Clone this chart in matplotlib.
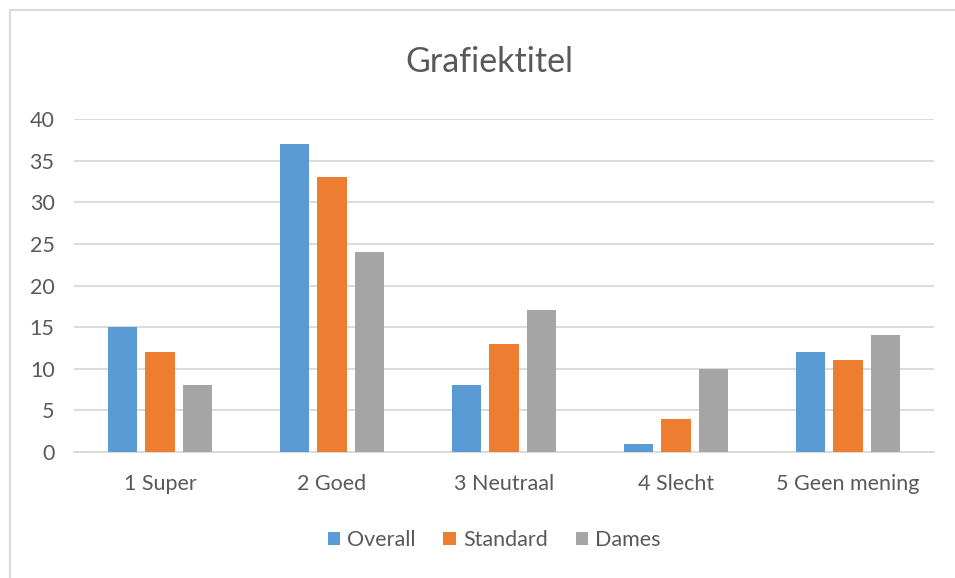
import numpy as np
import matplotlib.pyplot as plt
from matplotlib.patches import Rectangle

categories = ["1 Super", "2 Goed", "3 Neutraal", "4 Slecht", "5 Geen mening"]
overall = [15, 37, 8, 1, 12]
standard = [12, 33, 13, 4, 11]
dames = [8, 24, 17, 10, 14]

series = [("Overall", overall, "#5b9bd5"),
          ("Standard", standard, "#ed7d31"),
          ("Dames", dames, "#a5a5a5")]

plt.rcParams['font.family'] = ['Lato', 'DejaVu Sans']
text_col = "#595959"
grid_col = "#d9d9d9"

W, H = 955, 578
fig = plt.figure(figsize=(W / 100, H / 100), dpi=100)
ax = fig.add_axes([74 / W, 1 - 452 / H, (934 - 74) / W, (452 - 119) / H])

x = np.arange(len(categories))
width = 0.17
offsets = [-0.22, 0, 0.22]
for (name, vals, col), off in zip(series, offsets):
    ax.bar(x + off, vals, width, color=col, label=name, zorder=3)

ax.set_xlim(-0.5, len(categories) - 0.5)
ax.set_ylim(0, 40)
ax.set_yticks(range(0, 41, 5))
ax.set_xticks(x)
ax.set_xticklabels(categories)
ax.grid(axis='y', color=grid_col, linewidth=1.3, zorder=0)
for s in ["top", "right", "left"]:
    ax.spines[s].set_visible(False)
ax.spines["bottom"].set_color(grid_col)
ax.spines["bottom"].set_linewidth(1.3)
ax.tick_params(axis='both', length=0, labelsize=15.5, colors=text_col)
ax.tick_params(axis='y', pad=14)
ax.tick_params(axis='x', pad=16)

fig.text(489 / W, 1 - 62 / H, "Grafiektitel", ha='center', va='center',
         fontsize=24.5, color=text_col)

ax.legend(loc='center', bbox_to_anchor=(494 / W, 1 - 540 / H),
          bbox_transform=fig.transFigure, ncol=3, frameon=False,
          fontsize=15.5, labelcolor=text_col, handlelength=0.6,
          handleheight=0.6, handletextpad=0.3, columnspacing=1.3)

fig.add_artist(Rectangle((9.5 / W, -0.1), 1.2, 1 - 10.5 / H + 0.1,
                         transform=fig.transFigure, fill=False,
                         edgecolor=grid_col, linewidth=1.5))

fig.savefig("out.png", dpi=100, facecolor="white")
